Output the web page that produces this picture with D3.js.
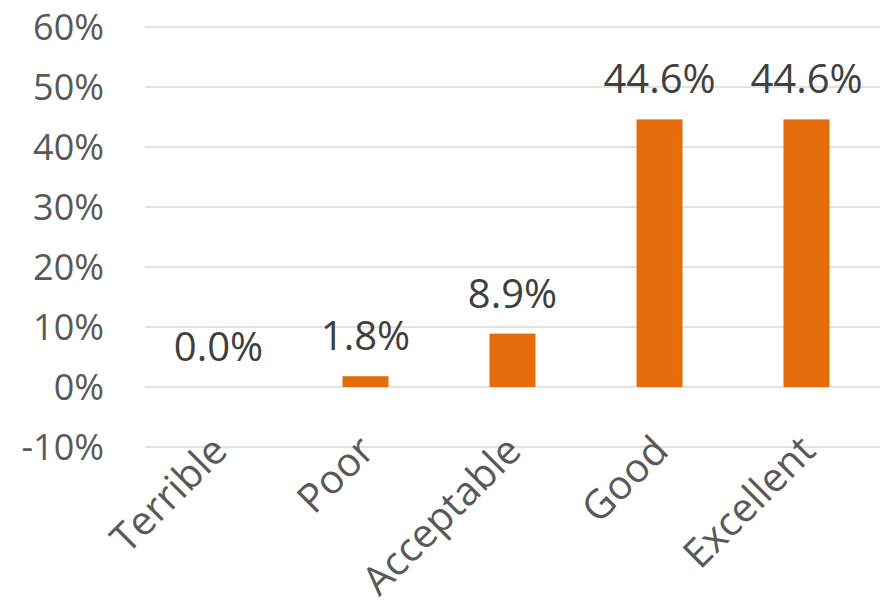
<!DOCTYPE html>
<html>
<head>
<meta charset="utf-8">
<script src="https://cdn.jsdelivr.net/npm/d3@7"></script>
<style>
  body { margin: 0; background: #fff; }
  text { font-family: "Open Sans", sans-serif; }
</style>
</head>
<body>
<script>
/* Data */
var categories = ["Terrible", "Poor", "Acceptable", "Good", "Excellent"];
var shares = [0.0, 1.8, 8.9, 44.6, 44.6];
var yTicks = [-10, 0, 10, 20, 30, 40, 50, 60];

var WIDTH = 883, HEIGHT = 600;
var plotLeft = 145, plotRight = 880, plotTop = 27, plotBottom = 447;

var svg = d3.select("body").append("svg")
    .attr("width", WIDTH)
    .attr("height", HEIGHT);

var x = d3.scaleBand().domain(categories).range([plotLeft, plotRight]).paddingInner(0.687).paddingOuter(0.3435);
var y = d3.scaleLinear().domain([-10, 60]).range([plotBottom, plotTop]);

// gridlines
svg.append("g").selectAll("line")
  .data(yTicks)
  .join("line")
    .attr("x1", plotLeft).attr("x2", plotRight)
    .attr("y1", d => y(d)).attr("y2", d => y(d))
    .attr("stroke", "#d9d9d9").attr("stroke-width", 1.5);

// y axis labels
svg.append("g").selectAll("text")
  .data(yTicks)
  .join("text")
    .attr("x", 104).attr("y", d => y(d))
    .attr("dy", "0.35em")
    .attr("text-anchor", "end")
    .attr("font-size", 36)
    .attr("fill", "#595959")
    .text(d => d + "%");

// bars
svg.append("g").selectAll("rect")
  .data(shares)
  .join("rect")
    .attr("x", (d, i) => x(categories[i]))
    .attr("width", x.bandwidth())
    .attr("y", d => y(d))
    .attr("height", d => y(0) - y(d))
    .attr("fill", "#e46c0a");

// data labels
svg.append("g").selectAll("text")
  .data(shares)
  .join("text")
    .attr("x", (d, i) => x(categories[i]) + x.bandwidth() / 2)
    .attr("y", d => y(d) - 26)
    .attr("text-anchor", "middle")
    .attr("font-size", 40)
    .attr("fill", "#404040")
    .text(d => d.toFixed(1) + "%");

// category labels
svg.append("g").selectAll("text")
  .data(categories)
  .join("text")
    .attr("transform", d => "translate(" + (x(d) + x.bandwidth() / 2 + 11) + ",453) rotate(-45)")
    .attr("text-anchor", "end")
    .attr("font-size", 40)
    .attr("fill", "#595959")
    .text(d => d);
</script>
</body>
</html>
